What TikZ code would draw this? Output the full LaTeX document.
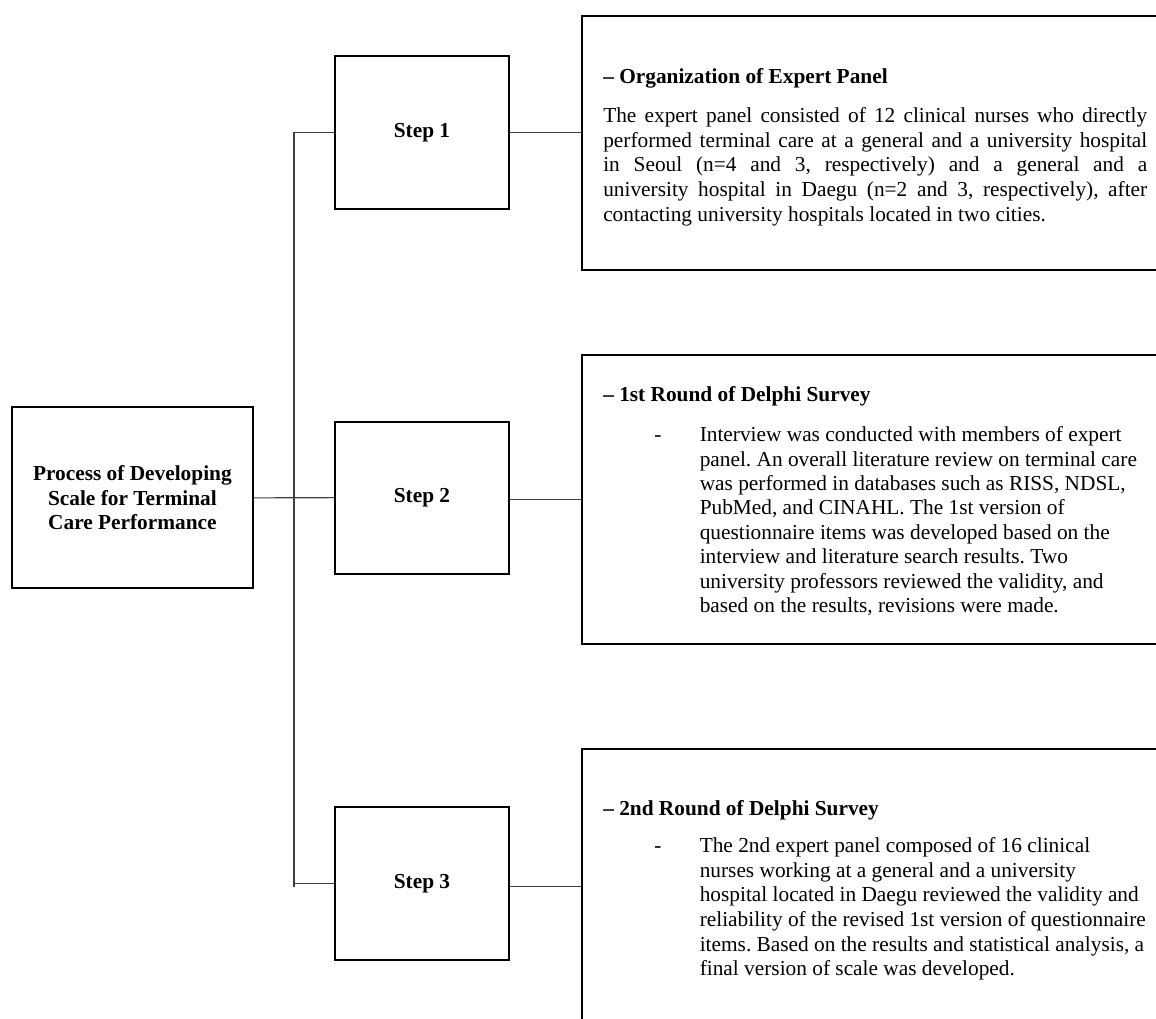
\documentclass[tikz,border=0pt]{standalone}
\usepackage{fontspec}
\setmainfont{Liberation Serif}
\definecolor{conn}{HTML}{404040}
\frenchspacing
\begin{document}
\begin{tikzpicture}[x=0.75pt,y=-0.75pt,
  box/.style={draw=black, line width=1.5pt, fill=none, inner sep=0pt, align=center,
    font=\fontsize{16pt}{18.4pt}\selectfont\bfseries},
  detail/.style={draw=black, line width=1.5pt, inner sep=0pt},
  conn/.style={draw=conn, line width=0.8pt},
  txt/.style={inner sep=0pt, anchor=base west, font=\fontsize{16pt}{18.4pt}\selectfont\frenchspacing},
  head/.style={txt, font=\fontsize{16pt}{18.4pt}\selectfont\bfseries}]
\useasboundingbox (0,0) rectangle (1156,1018);
\fill[white] (0,0) rectangle (1156,1018);
% main box and steps
\node[box, minimum width=181.2pt, minimum height=135.8pt] (main) at (132.4,497.8)
  {Process of Developing\\Scale for Terminal\\Care Performance};
\node[box, minimum width=130.5pt, minimum height=114.5pt] (s1) at (422,132.4) {Step 1};
\node[box, minimum width=130.5pt, minimum height=114pt] (s2) at (422,497.7) {Step 2};
\node[box, minimum width=130.5pt, minimum height=114.7pt] (s3) at (422,883.5) {Step 3};
% detail boxes (extend past the right/bottom edge)
\node[detail, minimum width=448.7pt, minimum height=190.5pt] (d1) at (880.85,143) {};
\node[detail, minimum width=448.7pt, minimum height=216.75pt] (d2) at (880.85,499.5) {};
\node[detail, minimum width=448.7pt, minimum height=218pt] (d3) at (880.85,894.65) {};
% trunk
\coordinate (ttop) at (294,132.4);
\coordinate (tbot) at (294,887);
\draw[conn] (ttop) -- (tbot);
\draw[conn] (ttop) -- (s1.west);
\draw[conn] (tbot |- s3.west) -- (s3.west);
\draw[conn] (main.east) -- (s2.west);
\draw[conn] (s1.east) -- (s1.east -| d1.west);
\draw[conn] (s2.east) ++(0,2) coordinate (s2r) -- (s2r -| d2.west);
\draw[conn] (s3.east) ++(0,3) coordinate (s3r) -- (s3r -| d3.west);
% box 1 text
\node[head] (h1) at (603,83.3) {– Organization of Expert Panel};
\foreach \t [count=\i] in {
  {\makebox[408pt][s]{The expert panel consisted of 12 clinical nurses who directly}},
  {\makebox[408pt][s]{performed terminal care at a general and a university hospital}},
  {\makebox[408pt][s]{in Seoul (n=4 and 3, respectively) and a general and a}},
  {\makebox[408pt][s]{university hospital in Daegu (n=2 and 3, respectively), after}},
  {contacting university hospitals located in two cities.}}
  \node[txt] (p1-\i) at (603,122.7+24.6*\i-24.6) {\t};
% box 2 text
\node[head] (h2) at (603,401.7) {– 1st Round of Delphi Survey};
\node[txt] (b2) at (654,441.7) {-};
\foreach \t [count=\i] in {
  {Interview was conducted with members of expert},
  {panel. An overall literature review on terminal care},
  {was performed in databases such as RISS, NDSL,},
  {PubMed, and CINAHL. The 1st version of},
  {questionnaire items was developed based on the},
  {interview and literature search results. Two},
  {university professors reviewed the validity, and},
  {based on the results, revisions were made.}}
  \node[txt] (p2-\i) at (699.5,441.7+24.4*\i-24.4) {\t};
% box 3 text
\node[head] (h3) at (603,815) {– 2nd Round of Delphi Survey};
\node[txt] (b3) at (654,852.7) {-};
\foreach \t [count=\i] in {
  {The 2nd expert panel composed of 16 clinical},
  {nurses working at a general and a university},
  {hospital located in Daegu reviewed the validity and},
  {reliability of the revised 1st version of questionnaire},
  {items. Based on the results and statistical analysis, a},
  {final version of scale was developed.}}
  \node[txt] (p3-\i) at (699.5,852.7+24.6*\i-24.6) {\t};
\end{tikzpicture}
\end{document}
